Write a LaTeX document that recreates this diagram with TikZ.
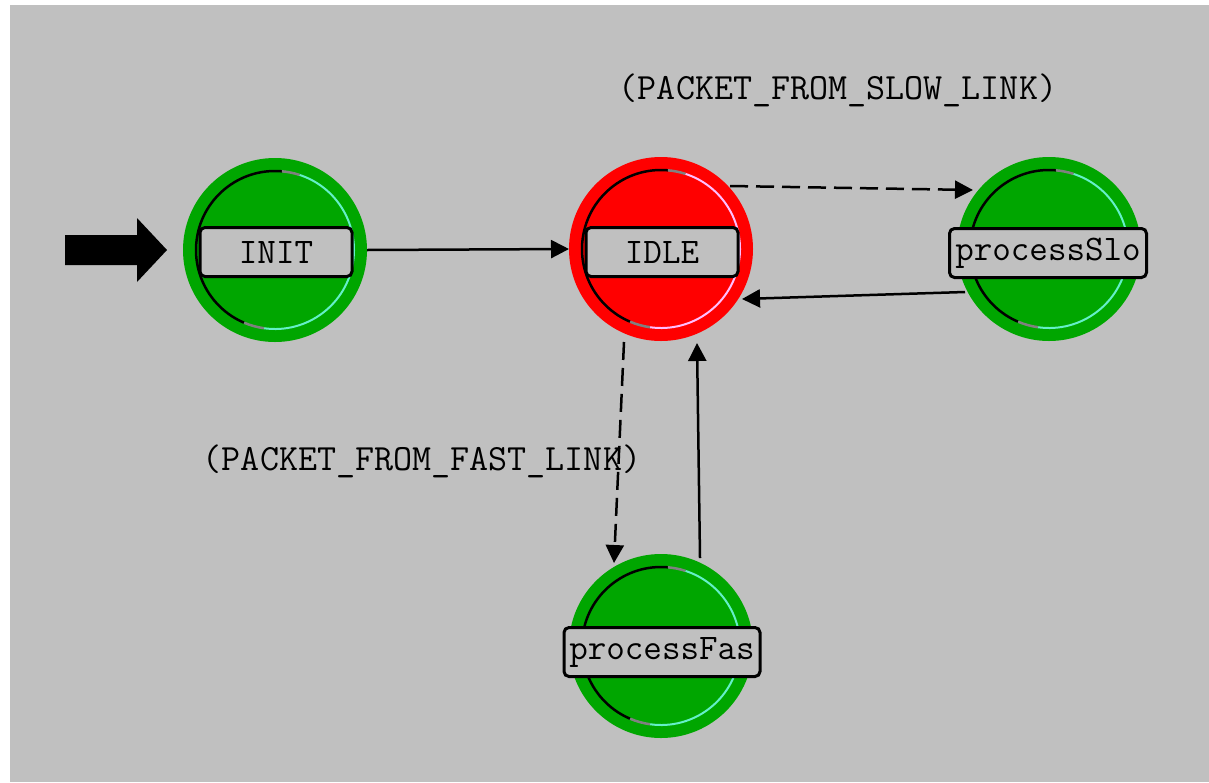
\documentclass[tikz,border=0pt]{standalone}
\usetikzlibrary{arrows.meta,calc}
\definecolor{bg}{RGB}{192,192,192}
\definecolor{stgreen}{RGB}{0,166,0}
\definecolor{stred}{RGB}{255,0,0}
\definecolor{ringcyan}{RGB}{100,240,200}
\definecolor{ringpink}{RGB}{255,190,255}
\newcommand\stateRing[2]{%
  \draw[y=1pt,line width=2.5pt,black] ($(#1.center)+(85:79)$) arc[start angle=85,end angle=247,radius=79];
  \draw[y=1pt,line width=2pt,#2] ($(#1.center)+(-98:79)$) arc[start angle=-98,end angle=72,radius=79];
  \draw[y=1pt,line width=2.5pt,gray] ($(#1.center)+(72:79)$) arc[start angle=72,end angle=85,radius=79];
  \draw[y=1pt,line width=2.5pt,gray] ($(#1.center)+(247:79)$) arc[start angle=247,end angle=262,radius=79];
}
\begin{document}
\begin{tikzpicture}[x=1pt,y=-1pt,
  state/.style={circle,minimum size=184pt,inner sep=0pt,outer sep=0pt,draw=none},
  lbl/.style={draw=black,line width=3pt,fill=bg,rounded corners=5pt,minimum height=49pt,inner sep=0pt,font=\ttfamily\fontsize{36}{36}\selectfont},
  txt/.style={font=\ttfamily\fontsize{37}{37}\selectfont,inner sep=0pt},
  tr/.style={line width=2.5pt,-{Triangle[length=18pt,width=18pt]}},
  trd/.style={tr,dash pattern=on 18pt off 8pt},
]
\useasboundingbox (0,0) rectangle (1209,782);
\fill[white] (0,0) rectangle (1209,782);
\fill[bg] (10,5) rectangle (1209,782);

% states
\node[state,fill=stgreen] (init) at (275,250) {};
\node[state,fill=stred] (idle) at (661,249) {};
\node[state,fill=stgreen] (slo) at (1049,249) {};
\node[state,fill=stgreen] (fas) at (661,646) {};
\stateRing{init}{ringcyan}
\stateRing{idle}{ringpink}
\stateRing{slo}{ringcyan}
\stateRing{fas}{ringcyan}

\node[lbl,minimum width=152pt] (initL) at (276,252) {INIT};
\node[lbl,minimum width=152pt] (idleL) at (662,252) {IDLE};
\node[lbl,minimum width=197pt] (sloL) at (1048,253) {processSlo};
\node[lbl,minimum width=196pt] (fasL) at (662,652) {processFas};

% entry arrow
\coordinate (entry) at (167,250);
\fill[black] (65,235) -- (137,235) -- (137,218) -- (entry) -- (137,282) -- (137,265) -- (65,265) -- cycle;

% transitions
\draw[tr] (init.east) -- ($(idle.center)+(-92,0)$);
\draw[trd] ($(idle.center)+(69,-63)$) -- ($(slo.center)+(-76,-59)$);
\draw[tr] ($(slo.center)+(-84,43)$) -- ($(idle.center)+(81,50)$);
\draw[trd] ($(idle.center)+(-37,93)$) -- ($(fas.center)+(-47,-83)$);
\draw[tr] ($(fas.center)+(39,-88)$) -- ($(idle.center)+(36,94)$);

% labels
\node[txt] (slowlbl) at (838,90) {(PACKET\_FROM\_SLOW\_LINK)};
\node[txt] (fastlbl) at (422,461) {(PACKET\_FROM\_FAST\_LINK)};
\end{tikzpicture}
\end{document}
